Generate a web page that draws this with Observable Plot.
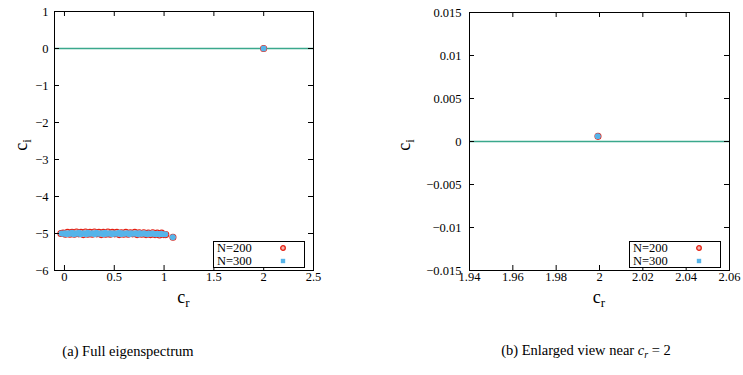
<!DOCTYPE html>
<html><head><meta charset="utf-8">
<script src="https://cdn.jsdelivr.net/npm/d3@7"></script>
<script src="https://cdn.jsdelivr.net/npm/@observablehq/plot@0.6"></script>
<style>
body{margin:0;background:#fff;}
#wrap{position:relative;width:743px;height:375px;font-family:"Liberation Serif","Times New Roman",Times,"DejaVu Serif",serif;color:#000;overflow:hidden;}
.panel{position:absolute;top:0;}
.lab{position:absolute;font-size:18px;line-height:1;white-space:nowrap;transform:translate(-50%,-50%);}
.lab sub{font-size:13px;vertical-align:-4px;}
.ylab{transform:translate(-50%,-50%) rotate(-90deg);}
.cap{position:absolute;font-size:14.5px;line-height:1;white-space:nowrap;transform:translate(-50%,-50%);}
.cap i{font-style:italic;}
.legend{position:absolute;width:90px;height:25px;border:1px solid #000;background:#fff;font-size:12.5px;line-height:12.5px;}
.legend .row{position:relative;height:12.5px;padding-left:3px;}
.legend svg{position:absolute;left:63px;top:0;}
</style>
</head><body>
<div id="wrap"></div>
<script>
// ---- data ----
const seriesNames = ["N=200", "N=300"];
const seriesColors = ["#e51e10", "#56b4e9"];
const lineColor = "#3aa88c";

const crN200 = [-0.036,-0.014,0.009,0.031,0.054,0.076,0.099,0.121,0.144,0.166,
  0.189,0.211,0.234,0.256,0.279,0.301,0.324,0.346,0.369,0.391,
  0.414,0.436,0.459,0.481,0.504,0.526,0.549,0.571,0.594,0.616,
  0.639,0.661,0.684,0.706,0.729,0.751,0.774,0.796,0.819,0.841,
  0.864,0.886,0.909,0.931,0.954,0.976,0.998,1.017,1.089,1.9993];
const ciN200 = [-5.00,-4.99,-5.02,-4.97,-5.02,-4.97,-5.02,-4.96,-5.01,-4.97,
  -5.03,-4.96,-5.02,-4.97,-5.02,-4.96,-5.01,-4.97,-5.03,-4.97,
  -5.02,-4.96,-5.02,-4.97,-5.01,-4.97,-5.03,-4.98,-5.02,-4.97,
  -5.02,-4.98,-5.01,-4.97,-5.03,-4.98,-5.02,-4.98,-5.03,-4.99,
  -5.03,-4.98,-5.03,-4.99,-5.04,-4.99,-5.03,-5.03,-5.10,0.0006];

const crN300 = [-0.030,-0.012,0.006,0.023,0.041,0.058,0.076,0.093,0.111,0.128,
  0.146,0.163,0.181,0.198,0.216,0.233,0.251,0.268,0.286,0.303,
  0.321,0.338,0.356,0.373,0.391,0.408,0.426,0.443,0.461,0.478,
  0.496,0.513,0.531,0.548,0.566,0.583,0.601,0.618,0.636,0.653,
  0.671,0.688,0.706,0.723,0.741,0.758,0.776,0.793,0.811,0.828,
  0.846,0.863,0.881,0.898,0.916,0.933,0.951,0.968,0.986,1.012,
  1.088,1.9992];
const ciN300 = [-5.00,-5.01,-4.99,-5.02,-4.99,-5.01,-4.98,-5.02,-4.99,-5.01,
  -4.98,-5.02,-5.00,-4.99,-5.02,-4.98,-5.01,-5.00,-4.99,-5.02,
  -4.98,-5.01,-5.00,-4.99,-5.02,-4.98,-5.01,-5.00,-4.99,-5.02,
  -4.99,-5.01,-5.00,-4.98,-5.02,-4.99,-5.01,-5.00,-4.99,-5.02,
  -4.99,-5.01,-5.00,-4.99,-5.02,-4.99,-5.01,-5.00,-5.00,-5.02,
  -5.00,-5.01,-5.00,-5.01,-5.02,-5.01,-5.02,-5.01,-5.02,-5.02,
  -5.10,0.0006];

// panel (a)
const xTicksA = [0, 0.5, 1, 1.5, 2, 2.5];
const yTicksA = [1, 0, -1, -2, -3, -4, -5, -6];
const xDomainA = [-0.1, 2.5];
const yDomainA = [-6, 1];
// panel (b)
const xTicksB = [1.94, 1.96, 1.98, 2, 2.02, 2.04, 2.06];
const yTicksB = [0.015, 0.01, 0.005, 0, -0.005, -0.01, -0.015];
const xDomainB = [1.94, 2.06];
const yDomainB = [-0.015, 0.015];

const captions = ["(a) Full eigenspectrum", "(b) Enlarged view near "];

// ---- build ----
const FONT = '"Liberation Serif","Times New Roman",Times,"DejaVu Serif",serif';
const n200 = crN200.map((x, i) => ({x, y: ciN200[i]}));
const n300 = crN300.map((x, i) => ({x, y: ciN300[i]}));
const fmt = d => String(d).replace("-", "\u2212");

function panel({xDomain, yDomain, xTicks, yTicks, ml, mr, mt, mb, W, H, ypad}) {
  const pw = W - ml - mr, ph = H - mt - mb, tl = 5;
  return Plot.plot({
    width: W, height: H,
    marginLeft: ml, marginRight: mr, marginTop: mt, marginBottom: mb,
    style: {fontFamily: FONT, fontSize: "12.5px", color: "#000", background: "#fff"},
    x: {domain: xDomain, label: null},
    y: {domain: yDomain, label: null},
    marks: [
      Plot.ruleY([0], {stroke: lineColor, strokeWidth: 1.4, clip: true}),
      Plot.dot(n200, {x: "x", y: "y", r: 3, stroke: seriesColors[0], strokeWidth: 1.1, fill: "#f6b3ad", clip: true}),
      Plot.dot(n300, {x: "x", y: "y", r: 3, fill: seriesColors[1], clip: true}),
      Plot.tickX(xTicks, {x: d => d, insetTop: ph - tl, stroke: "#000"}),
      Plot.tickX(xTicks, {x: d => d, insetBottom: ph - tl, stroke: "#000"}),
      Plot.tickY(yTicks, {y: d => d, insetRight: pw - tl, stroke: "#000"}),
      Plot.tickY(yTicks, {y: d => d, insetLeft: pw - tl, stroke: "#000"}),
      Plot.frame({stroke: "#000"}),
      Plot.axisX(xTicks, {anchor: "bottom", tickSize: 0, tickPadding: 2, tickFormat: fmt, label: null, fontFamily: FONT}),
      Plot.axisY(yTicks, {anchor: "left", tickSize: 0, tickPadding: ypad, tickFormat: fmt, label: null, fontFamily: FONT})
    ]
  });
}

const wrap = document.getElementById("wrap");
const cfgs = [
  {left: 0, xDomain: xDomainA, yDomain: yDomainA, xTicks: xTicksA, yTicks: yTicksA, ml: 54, mr: 58, mt: 11, mb: 40, W: 371, H: 310, ypad: 6},
  {left: 372, xDomain: xDomainB, yDomain: yDomainB, xTicks: xTicksB, yTicks: yTicksB, ml: 97, mr: 14, mt: 12, mb: 40, W: 371, H: 310, ypad: 8}
];
cfgs.forEach((c, k) => {
  const div = document.createElement("div");
  div.className = "panel";
  div.style.left = c.left + "px";
  div.appendChild(panel(c));
  wrap.appendChild(div);

  const fx0 = c.left + c.ml, fx1 = c.left + c.W - c.mr;
  const fy0 = c.mt, fy1 = c.H - c.mb;
  // y label
  const yl = document.createElement("div");
  yl.className = "lab ylab";
  yl.style.left = (c.left + c.ml - (k === 0 ? 32 : 64)) + "px";
  yl.style.top = ((fy0 + fy1) / 2 + 4) + "px";
  yl.innerHTML = "c<sub>i</sub>";
  wrap.appendChild(yl);
  // x label
  const xl = document.createElement("div");
  xl.className = "lab";
  xl.style.left = ((fx0 + fx1) / 2) + "px";
  xl.style.top = "298px";
  xl.innerHTML = "c<sub>r</sub>";
  wrap.appendChild(xl);
  // legend
  const lg = document.createElement("div");
  lg.className = "legend";
  lg.style.left = (fx1 - 100) + "px";
  lg.style.top = "241px";
  seriesNames.forEach((name, j) => {
    const row = document.createElement("div");
    row.className = "row";
    row.textContent = name;
    const svg = d3.create("svg").attr("width", 12).attr("height", 12);
    if (j === 0) svg.append("circle").attr("cx", 6).attr("cy", 6).attr("r", 2.3)
      .attr("fill", "#f6b3ad").attr("stroke", seriesColors[0]).attr("stroke-width", 1.3);
    else svg.append("rect").attr("x", 3.8).attr("y", 3.8).attr("width", 4.4).attr("height", 4.4)
      .attr("fill", seriesColors[1]);
    row.appendChild(svg.node());
    lg.appendChild(row);
  });
  wrap.appendChild(lg);
  // caption
  const cp = document.createElement("div");
  cp.className = "cap";
  cp.style.left = (k === 0 ? 128 : 586) + "px";
  cp.style.top = "351px";
  cp.innerHTML = k === 0 ? captions[0] : captions[1] + "<i>c<sub style='font-size:10px;vertical-align:-3px'>r</sub></i> = 2";
  wrap.appendChild(cp);
});
</script>
</body></html>
